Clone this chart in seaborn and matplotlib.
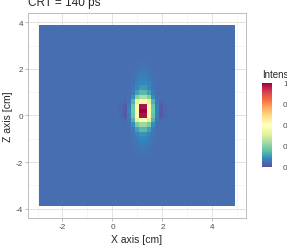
import numpy as np
import seaborn as sns
import matplotlib.pyplot as plt

# detector image grid (cm)
x_start, x_step, n_x = -2.95, 0.16, 49
z_top, z_step, n_z = 3.9, 0.2, 39
x_limits = (-3.38, 5.36)
z_limits = (-4.4, 4.4)

background = 0.055
B = background
# intensity around the hot spot: rows 8..27 (counted from top), columns 20..31
patch_row0, patch_col0 = 8, 20
patch = [
    [B, B, B, B, .06, .065, .065, .06, B, B, B, B],
    [B, B, B, B, .065, .07, .07, .065, B, B, B, B],
    [B, B, B, .06, .07, .08, .08, .07, .06, B, B, B],
    [B, B, B, .06, .08, .09, .09, .08, .06, B, B, B],
    [B, B, B, .065, .09, .105, .105, .09, .065, B, B, B],
    [B, B, B, .07, .105, .125, .125, .105, .07, B, B, B],
    [B, B, B, .08, .14, .18, .18, .14, .08, B, B, B],
    [B, B, .06, .11, .24, .30, .30, .24, .11, .06, B, B],
    [B, .045, .065, .17, .40, .47, .47, .40, .17, .065, .045, B],
    [.045, .025, .085, .21, .46, .97, .97, .46, .21, .085, .025, .045],
    [.045, .02, .09, .22, .48, 1.0, 1.0, .48, .22, .09, .02, .045],
    [.045, .025, .085, .21, .46, .97, .97, .46, .21, .085, .025, .045],
    [B, .045, .065, .17, .40, .47, .47, .40, .17, .065, .045, B],
    [B, B, .06, .11, .23, .28, .28, .23, .11, .06, B, B],
    [B, B, B, .08, .14, .18, .18, .14, .08, B, B, B],
    [B, B, B, .07, .10, .12, .12, .10, .07, B, B, B],
    [B, B, B, .065, .085, .10, .10, .085, .065, B, B, B],
    [B, B, B, .06, .075, .085, .085, .075, .06, B, B, B],
    [B, B, B, B, .065, .07, .07, .065, B, B, B, B],
    [B, B, B, B, .06, .065, .065, .06, B, B, B, B],
]

x_ticks = [-2, 0, 2, 4]
x_minor = [-3, -1, 1, 3, 5]
z_ticks = [-4, -2, 0, 2, 4]
z_minor = [-3, -1, 1, 3]
cbar_ticks = [0, 0.25, 0.5, 0.75, 1.0]

img = np.full((n_z, n_x), background)
p = np.array(patch)
img[patch_row0:patch_row0 + p.shape[0], patch_col0:patch_col0 + p.shape[1]] = p


def col_pos(x):
    return (np.asarray(x, dtype=float) - x_start) / x_step


def row_pos(z):
    return (z_top - np.asarray(z, dtype=float)) / z_step


sns.set_theme(style="white")
plt.rcParams['font.family'] = ['Liberation Sans', 'DejaVu Sans']

W, H = 287, 251
fig = plt.figure(figsize=(W / 100, H / 100), dpi=100)
ax = fig.add_axes([28 / W, 1 - 219 / H, 218.5 / W, 205 / H])
cax = fig.add_axes([262 / W, 1 - 168 / H, 10 / W, 84 / H])

sns.heatmap(img, cmap="Spectral_r", vmin=0, vmax=1, ax=ax, cbar_ax=cax,
            xticklabels=False, yticklabels=False)

ax.set_xlim(col_pos(x_limits[0]), col_pos(x_limits[1]))
ax.set_ylim(row_pos(z_limits[0]), row_pos(z_limits[1]))
ax.set_xticks(col_pos(x_ticks))
ax.set_xticklabels([str(v) for v in x_ticks])
ax.set_yticks(row_pos(z_ticks))
ax.set_yticklabels([str(v) for v in z_ticks])
ax.set_xticks(col_pos(x_minor), minor=True)
ax.set_yticks(row_pos(z_minor), minor=True)

ax.set_axisbelow(True)
ax.grid(True, which='major', color='#DEDEDE', lw=0.6)
ax.grid(True, which='minor', color='#EEEEEE', lw=0.4)
for sp in ax.spines.values():
    sp.set_visible(True)
    sp.set_color('#B3B3B3')
    sp.set_linewidth(0.6)
ax.tick_params(which='major', bottom=True, left=True, length=2, width=0.6,
               color='#B3B3B3', labelcolor='#4D4D4D', labelsize=5.9, pad=1.5)
ax.tick_params(which='minor', length=0)
ax.set_xlabel("")
ax.set_ylabel("")

fig.text(137 / W, 1 - 240 / H, "X axis [cm]", fontsize=7.5, ha='center', va='center')
fig.text(8 / W, 1 - 117 / H, "Z axis [cm]", fontsize=7.5, ha='center', va='center',
         rotation=90)
fig.text(28 / W, 1 - 6 / H, "CRT = 140 ps", fontsize=8.5, ha='left', va='baseline')

cbar = ax.collections[0].colorbar
cbar.set_ticks(cbar_ticks)
cbar.set_ticklabels([f"{v:.2f}" for v in cbar_ticks])
cbar.outline.set_visible(False)
cax.tick_params(length=0, labelsize=5.9, labelcolor='#4D4D4D', pad=8)
fig.text(262 / W, 1 - 75 / H, "Intensity", fontsize=7, ha='left', va='center')

fig.savefig("out.png", dpi=100)
